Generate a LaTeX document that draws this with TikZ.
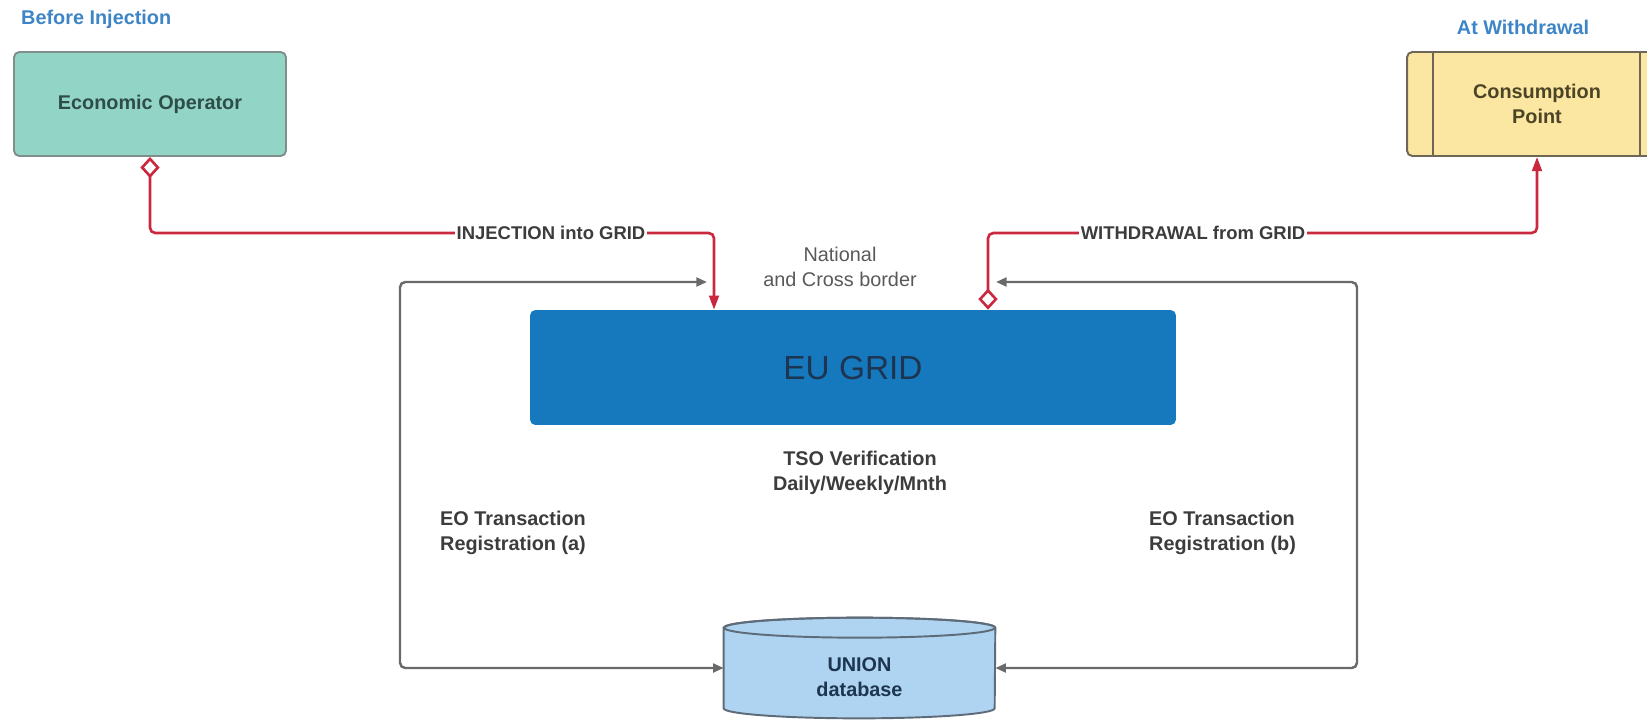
\documentclass[tikz,border=0pt]{standalone}
\usepackage{fontspec}
\setmainfont{Liberation Sans}
\usetikzlibrary{arrows.meta,positioning,calc}
\definecolor{eoteal}{HTML}{92D5C6}
\definecolor{eoline}{HTML}{7F8F8C}
\definecolor{eotext}{HTML}{2E4D48}
\definecolor{cpyellow}{HTML}{FCE7A2}
\definecolor{cpline}{HTML}{6E6656}
\definecolor{cptext}{HTML}{4B4425}
\definecolor{gridblue}{HTML}{1679BE}
\definecolor{gridtext}{HTML}{1D3550}
\definecolor{dbblue}{HTML}{AFD4F1}
\definecolor{dbline}{HTML}{5E6B78}
\definecolor{linkred}{HTML}{C9283E}
\definecolor{linkgray}{HTML}{6A6A6A}
\definecolor{headblue}{HTML}{3D85C6}
\definecolor{labgray}{HTML}{3C3C3C}
\tikzset{
  flowbox/.style={rounded corners=3pt, line width=1.1pt, inner sep=0pt, align=center,
                  font=\fontsize{11.3}{14}\selectfont\bfseries},
  redlink/.style={draw=linkred, line width=1.5pt, rounded corners=3pt,
                  {Diamond[open,length=12pt,width=11pt]}-{Triangle[length=8pt,width=5.5pt]}},
  graylink/.style={draw=linkgray, line width=1.4pt, rounded corners=3pt,
                  {Triangle[length=6pt,width=5pt]}-{Triangle[length=6pt,width=5pt]}},
  linklab/.style={fill=white, inner sep=1pt, font=\fontsize{10.5}{12}\selectfont\bfseries, text=labgray},
  flowlab/.style={font=\fontsize{11.3}{14}\selectfont\bfseries, text=labgray, align=left},
  headlab/.style={font=\fontsize{11.3}{14}\selectfont\bfseries, text=headblue},
}

\begin{document}
\begin{tikzpicture}[x=0.02cm,y=-0.02cm]
\useasboundingbox (0,0) rectangle (1647,721);
% headers
\node[headlab, anchor=west] (hbefore) at (15,19) {Before Injection};
\node[headlab] (hat) at (1523,27) {At Withdrawal};
% boxes
\node[flowbox, draw=eoline, fill=eoteal, text=eotext, minimum width=5.44cm, minimum height=2.08cm]
  (eo) at (150,104) {Economic Operator};
\node[flowbox, draw=cpline, fill=cpyellow, text=cptext, minimum width=5.2cm, minimum height=2.08cm]
  (cp) at (1537,104) {Consumption\\Point};
\draw[cpline, line width=1.1pt] ($(cp.north west)+(27,0)$) -- ($(cp.south west)+(27,0)$);
\draw[cpline, line width=1.1pt] ($(cp.north east)+(-28,0)$) -- ($(cp.south east)+(-28,0)$);
\node[rounded corners=3pt, fill=gridblue, text=gridtext, inner sep=0pt,
      minimum width=12.92cm, minimum height=2.3cm, font=\fontsize{19}{22}\selectfont]
  (grid) at (853,367.5) {EU GRID};
% database
\node[minimum width=5.42cm, minimum height=2cm, inner sep=0pt] (db) at (859.5,668) {};
\filldraw[draw=dbline, fill=dbblue, line width=1.1pt]
  ($(db.north west)+(0,10)$) -- ($(db.south west)+(0,-10)$)
  arc[start angle=180, end angle=0, x radius=135.5, y radius=10]
  -- ($(db.north east)+(0,10)$)
  arc[start angle=0, end angle=-180, x radius=135.5, y radius=10] -- cycle;
\draw[dbline, line width=1.1pt] ($(db.north)+(0,10)$) ellipse[x radius=135.5, y radius=10];
\node[flowbox, text=gridtext] (dblab) at ($(db.center)+(0,9)$) {UNION\\database};
% red links
\coordinate (injbend) at (714,233);
\coordinate (wdbend) at (988,233);
\draw[redlink] (eo.south) |- (injbend) -- (injbend |- grid.north);
\draw[redlink] (wdbend |- grid.north) -- (wdbend) -| (cp.south);
\node[linklab] (injlab) at (551,233) {INJECTION into GRID};
\node[linklab] (wdlab) at (1193,233) {WITHDRAWAL from GRID};
% gray loops
\coordinate (lcorner) at (400,282);
\coordinate (ltip) at (707,282);
\coordinate (rcorner) at (1357,282);
\coordinate (rtip) at (996,282);
\draw[graylink] (ltip) -- (lcorner) |- (db.west);
\draw[graylink] (rtip) -- (rcorner) |- (db.east);
% labels
\node[flowlab, align=center, font=\fontsize{11.3}{14}\selectfont, text=black!65] (natlab) at (840,267) {National\\and Cross border};
\node[flowlab, align=center] (tsolab) at (860,473) {TSO Verification\\Daily/Weekly/Mnth};
\node[flowlab, anchor=west] (regalab) at (434,533) {EO Transaction\\Registration (a)};
\node[flowlab, anchor=west] (regblab) at (1143,533) {EO Transaction\\Registration (b)};
\end{tikzpicture}
\end{document}
